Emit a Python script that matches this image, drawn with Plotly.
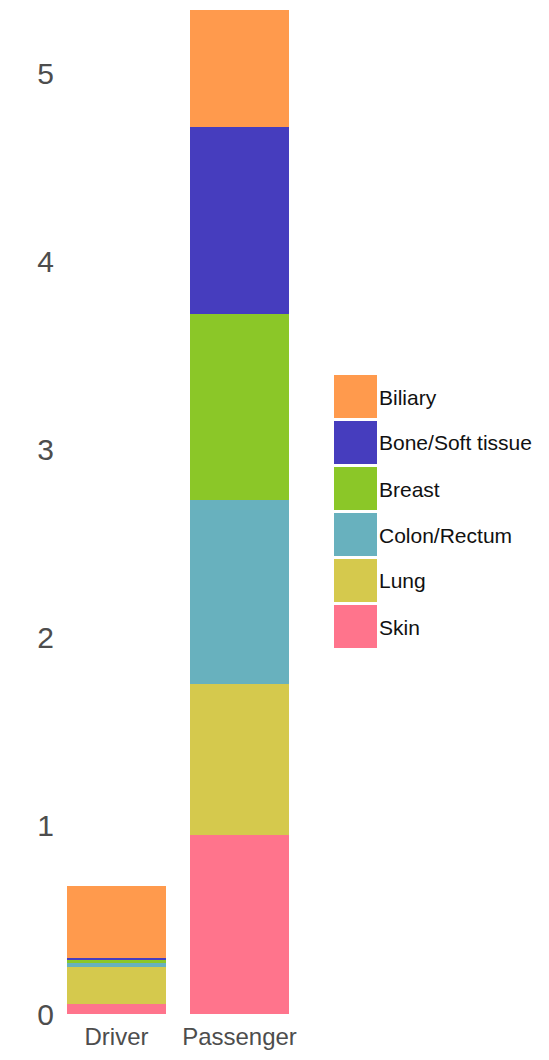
import plotly.graph_objects as go

# Dados
categorias = ["Driver", "Passenger"]
tipos = ["Skin", "Lung", "Colon/Rectum", "Breast", "Bone/Soft tissue", "Biliary"]
valores = {
    "Skin": [0.053, 0.952],
    "Lung": [0.197, 0.803],
    "Colon/Rectum": [0.020, 0.979],
    "Breast": [0.018, 0.989],
    "Bone/Soft tissue": [0.011, 0.995],
    "Biliary": [0.383, 0.622],
}
cores = {
    "Skin": "#FF748C",
    "Lung": "#D5C94D",
    "Colon/Rectum": "#68B1BE",
    "Breast": "#8BC728",
    "Bone/Soft tissue": "#463DBE",
    "Biliary": "#FF9A4D",
}
ticks_y = [0, 1, 2, 3, 4, 5]

W, H = 549, 1060
OFF = 8  # margem do body da página
L, T = 55 - OFF, 10 - OFF
PW, PH = 246, 1004
R, B = W - L - PW, H - T - PH
FONTE = "Liberation Sans, Arial, sans-serif"

fig = go.Figure()
for t in tipos:
    fig.add_trace(go.Bar(
        name=t, x=categorias, y=valores[t],
        marker_color=cores[t], marker_line_width=0,
        showlegend=False, hoverinfo="x+y+name",
    ))

total = max(sum(valores[t][i] for t in tipos) for i in range(len(categorias)))

# legenda manual com quadrados grandes (coordenadas em pixels da página)
def px_x(p):
    return (p - OFF - L) / PW
def px_y(p):
    return (T + PH - (p - OFF)) / PH

shapes, anots = [], []
for i, t in enumerate(reversed(tipos)):
    topo = 375 + 46 * i
    shapes.append(dict(
        type="rect", xref="paper", yref="paper",
        x0=px_x(334), x1=px_x(377), y0=px_y(topo + 43), y1=px_y(topo),
        fillcolor=cores[t], line_width=0,
    ))
    anots.append(dict(
        xref="paper", yref="paper", x=px_x(377), y=px_y(topo + 22),
        text=t, showarrow=False, xanchor="left", yanchor="middle",
        font=dict(family=FONTE, size=21, color="#111111"),
    ))

fig.update_layout(
    width=W, height=H,
    barmode="stack", bargap=0.195,
    plot_bgcolor="white", paper_bgcolor="white",
    margin=dict(l=L, r=R, t=T, b=B),
    font_family=FONTE,
    showlegend=False,
    shapes=shapes, annotations=anots,
    xaxis=dict(showgrid=False, zeroline=False, showline=False, ticks="",
               tickfont=dict(size=24, color="#4d4d4d"), range=[-0.5, 1.5],
               ticklabelstandoff=6),
    yaxis=dict(showgrid=False, zeroline=False, showline=False, ticks="",
               tickvals=ticks_y, tickfont=dict(size=30, color="#4d4d4d"),
               ticklabelstandoff=0, range=[0, total]),
)

fig.write_html("out.html")
